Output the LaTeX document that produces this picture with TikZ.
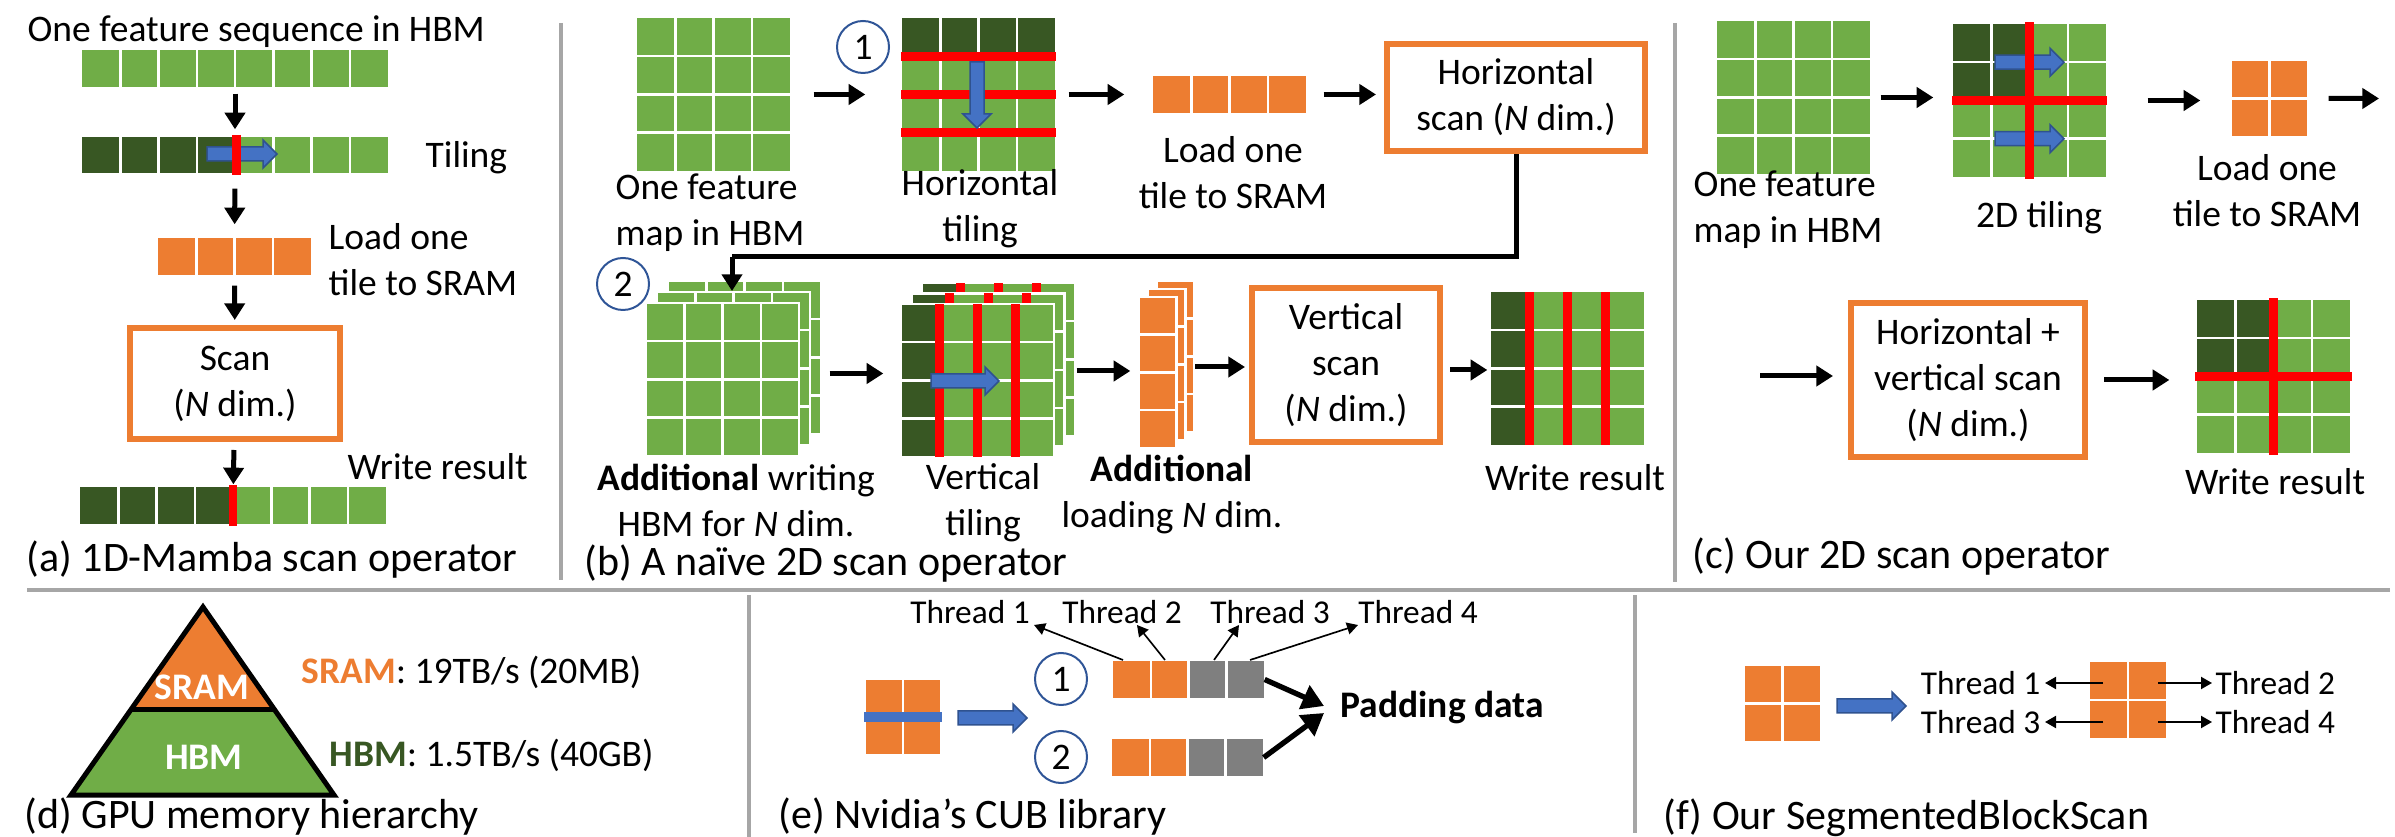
\documentclass[tikz,border=0pt]{standalone}
\usepackage{fontspec}
\setmainfont{Carlito}
\usetikzlibrary{arrows.meta,fit,calc}
\definecolor{gr}{HTML}{70AD47}
\definecolor{dg}{HTML}{385723}
\definecolor{org}{HTML}{ED7D31}
\definecolor{blu}{HTML}{4472C4}
\definecolor{blo}{HTML}{2F528F}
\definecolor{cir}{HTML}{2F5597}
\definecolor{gry}{HTML}{7F7F7F}
\definecolor{divc}{HTML}{A6A6A6}
\definecolor{rd}{HTML}{FF0000}
\newcommand{\gridsep}[6]{%
  \pgfmathtruncatemacro{\gsc}{#3-1}%
  \pgfmathtruncatemacro{\gsr}{#4-1}%
  \ifnum\gsc>0 \foreach \k in {1,...,\gsc}{\draw[sepl] ({#1+\k*#5},#2) -- ({#1+\k*#5},{#2+#4*#6});}\fi
  \ifnum\gsr>0 \foreach \k in {1,...,\gsr}{\draw[sepl] (#1,{#2+\k*#6}) -- ({#1+#3*#5},{#2+\k*#6});}\fi
}
\newcommand{\glayer}[7]{%
  \fill[#7] (#1,#2) rectangle ({#1+#3*#5},{#2+#4*#6});
  \draw[sepl] (#1,#2) rectangle ({#1+#3*#5},{#2+#4*#6});
  \gridsep{#1}{#2}{#3}{#4}{#5}{#6}}
\newcommand{\vtlayer}[2]{%
  \fill[gr] (#1,#2) rectangle ({#1+153},{#2+153});
  \fill[dg] (#1,#2) rectangle ({#1+38.25},{#2+153});
  \draw[sepl] (#1,#2) rectangle ({#1+153},{#2+153});
  \gridsep{#1}{#2}{4}{4}{38.25}{38.25}
  \foreach \k in {1,2,3}{\fill[rd] ({#1+\k*38.25-4.5},#2) rectangle ({#1+\k*38.25+4.5},{#2+153});}}
\newcommand{\barR}[3]{%
  \filldraw[fill=blu,draw=blo,line width=0.45pt] (#1,{#3-7}) -- ({#2-14},{#3-7}) -- ({#2-14},{#3-14}) -- (#2,#3) -- ({#2-14},{#3+14}) -- ({#2-14},{#3+7}) -- (#1,{#3+7}) -- cycle;}
\newcommand{\barD}[3]{%
  \filldraw[fill=blu,draw=blo,line width=0.45pt] ({#1-7},#2) -- ({#1-7},{#3-14}) -- ({#1-14},{#3-14}) -- (#1,#3) -- ({#1+14},{#3-14}) -- ({#1+7},{#3-14}) -- ({#1+7},#2) -- cycle;}
\begin{document}
\begin{tikzpicture}[x=0.3pt,y=-0.3pt,
  sepl/.style={white,line width=0.75pt},
  txt/.style={font=\fontsize{11.25}{13.8}\selectfont,inner sep=0pt,align=center},
  txl/.style={txt,align=left,anchor=west},
  captxt/.style={font=\fontsize{12.6}{15}\selectfont,inner sep=0pt,anchor=west},
  thr/.style={font=\fontsize{10}{12}\selectfont,inner sep=0pt},
  obox/.style={draw=org,line width=1.8pt,txt},
  circ/.style={circle,draw=cir,line width=0.6pt,minimum size=15.6pt,inner sep=0pt,font=\fontsize{11.25}{13.8}\selectfont},
  blk/.style={line width=1.5pt,-{Triangle[width=6pt,length=5pt]}},
  tarr/.style={line width=0.5pt,-{Triangle[width=3.6pt,length=3.3pt]}},
  parr/.style={line width=1.6pt,-{Triangle[width=7.5pt,length=6.5pt]}},
  divl/.style={divc,line width=1pt},
  bf/.style={inner sep=0pt}]
\useasboundingbox (0,0) rectangle (2395,837);
% ---------------- dividers
\draw[divl] (561,23) -- (561,580);
\draw[divl] (1675,23) -- (1675,582);
\draw[divl] (27,590) -- (2390,590);
\draw[divl] (749,595) -- (749,837);
\draw[divl] (1635,595) -- (1635,833);
% ---------------- (a)
\node[txt,anchor=west] (ta) at (27,32) {One feature sequence in HBM};
\fill[gr] (82,50) rectangle (388,87); \gridsep{82}{50}{8}{1}{38.25}{37}
\node[fit={(82,50)(388,87)},bf] (a1) {};
\fill[gr] (82,137) rectangle (388,173); \fill[dg] (82,137) rectangle (235,173);
\gridsep{82}{137}{8}{1}{38.25}{36}
\barR{207}{277}{154}
\fill[rd] (232,135) rectangle (241,175);
\node[fit={(82,137)(388,173)},bf] (a2) {};
\node[txt,anchor=west] (tt) at (425,158) {Tiling};
\fill[org] (158,238) rectangle (311,275); \gridsep{158}{238}{4}{1}{38.25}{37}
\node[fit={(158,238)(311,275)},bf] (a3) {};
\node[txl] (tl) at (328,260) {Load one\\tile to SRAM};
\node[obox,minimum width=63pt,minimum height=33.3pt] (abox) at (235,383.5) {Scan\\(\textit{N} dim.)};
\fill[gr] (80,487) rectangle (386,524); \fill[dg] (80,487) rectangle (233,524);
\gridsep{80}{487}{8}{1}{38.25}{37}
\fill[rd] (229,485) rectangle (237,526);
\node[fit={(80,487)(386,524)},bf] (a4) {};
\node[txt,anchor=west] (tw) at (347,467) {Write result};
\node[captxt] (capa) at (26,560) {(a) 1D-Mamba scan operator};
\draw[blk,shorten <=1.8pt,shorten >=2.1pt] (a1) -- (a2);
\draw[blk,shorten <=4.5pt,shorten >=3.9pt] (a2) -- (a3);
\draw[blk,shorten <=3pt,shorten >=1.5pt] (a3) -- (abox);
\draw[blk,shorten <=2.4pt,shorten >=0.6pt] (abox) -- (a4);
% ---------------- (b) top
\fill[gr] (637,18) rectangle (790,171); \gridsep{637}{18}{4}{4}{38.25}{38.25}
\node[fit={(637,18)(790,171)},bf] (b1) {};
\node[txl] (tb1) at (615,213) {One feature\\map in HBM};
\node[circ] (c1) at (863,47) {1};
\fill[gr] (902,18) rectangle (1055,171); \fill[dg] (902,18) rectangle (1055,56.25);
\gridsep{902}{18}{4}{4}{38.25}{38.25}
\foreach \r in {56.25,94.5,132.75}{\fill[rd] (901,{\r-4.5}) rectangle (1056,{\r+4.5});}
\barD{977}{62}{128}
\node[fit={(902,18)(1055,171)},bf] (b2) {};
\node[txt] (tb2) at (980,208.5) {Horizontal\\tiling};
\fill[org] (1153,76) rectangle (1306,113); \gridsep{1153}{76}{4}{1}{38.25}{37}
\node[fit={(1153,76)(1306,113)},bf] (ob) {};
\node[txt] (tb3) at (1233,173) {Load one\\tile to SRAM};
\node[obox,minimum width=77.4pt,minimum height=32.1pt] (hbox) at (1516,97.5) {Horizontal\\scan (\textit{N} dim.)};
\draw[blk,shorten <=6.9pt,shorten >=10.8pt] (b1) -- (b2);
\draw[blk,shorten <=3.9pt,shorten >=8.4pt] (b2) -- (ob);
\draw[blk,shorten <=5.1pt,shorten >=2.4pt] (ob.east) -- (ob.east -| hbox.west);
% ---------------- (b) bottom
\node[circ] (c2) at (623,284) {2};
\glayer{668}{281}{4}{4}{38.25}{38.25}{gr}
\glayer{657}{292}{4}{4}{38.25}{38.25}{gr}
\glayer{646}{303}{4}{4}{38.25}{38.25}{gr}
\node[fit={(646,303)(799,456)},bf] (s1) {};
\coordinate (fbk) at (732,257);
\coordinate (s1in) at (732,291);
\draw[line width=1.5pt] (hbox.south) |- (fbk);
\draw[blk] (fbk) -- (s1in);
\vtlayer{922}{283}
\vtlayer{911.5}{293.5}
\vtlayer{901}{304}
\barR{931}{999}{381}
\node[fit={(901,304)(1054,457)},bf] (s2) {};
\glayer{1157}{281}{1}{4}{37.5}{37.75}{org}
\glayer{1148}{289}{1}{4}{37.5}{37.75}{org}
\glayer{1139}{297}{1}{4}{37.5}{37.75}{org}
\node[fit={(1139,297)(1176.5,448)},bf] (oc) {};
\node[obox,minimum width=56.4pt,minimum height=46.2pt] (vbox) at (1346,365) {Vertical\\scan\\(\textit{N} dim.)};
\fill[gr] (1491,292) rectangle (1644,445); \fill[dg] (1491,292) rectangle (1529.25,445);
\gridsep{1491}{292}{4}{4}{38.25}{38.25}
\foreach \k in {1,2,3}{\fill[rd] ({1491+\k*38.25-4.5},292) rectangle ({1491+\k*38.25+4.5},445);}
\node[fit={(1491,292)(1644,445)},bf] (rg) {};
\draw[blk,shorten <=9pt,shorten >=5.1pt] ([yshift=1.8pt]s1.east) -- ([yshift=1.8pt]s1.east -| s2.west);
\draw[blk,shorten <=6.6pt,shorten >=2.4pt] ([yshift=2.85pt]s2.east) -- ([yshift=2.85pt]s2.east -| oc.west);
\draw[blk,shorten <=5.4pt,shorten >=1.2pt] ([yshift=1.65pt]oc.east) -- ([yshift=1.65pt]oc.east -| vbox.west);
\draw[blk,shorten <=2.1pt,shorten >=0.9pt] ([yshift=-1.5pt]vbox.east) -- ([yshift=-1.5pt]vbox.east -| rg.west);
\node[txt] (tb4) at (736,500) {\textbf{Additional} writing\\HBM for \textit{N} dim.};
\node[txt] (tb5) at (983,503) {Vertical\\tiling};
\node[txt] (tb6) at (1172,495) {\textbf{Additional}\\loading \textit{N} dim.};
\node[txt] (tb7) at (1575,478) {Write result};
\node[captxt] (capb) at (584,564) {(b) A naïve 2D scan operator};
% ---------------- (c)
\fill[gr] (1717,21) rectangle (1870,174); \gridsep{1717}{21}{4}{4}{38.25}{38.25}
\node[fit={(1717,21)(1870,174)},bf] (cg1) {};
\node[txl] (tc1) at (1693,210) {One feature\\map in HBM};
\fill[gr] (1953,24) rectangle (2106,177); \fill[dg] (1953,24) rectangle (2029.5,100.5);
\gridsep{1953}{24}{4}{4}{38.25}{38.25}
\barR{1995}{2064}{62.25}
\barR{1995}{2064}{138.75}
\fill[rd] (2025,22) rectangle (2034,179);
\fill[rd] (1952,96) rectangle (2107,105);
\node[fit={(1953,24)(2106,177)},bf] (cg2) {};
\node[txt] (tc2) at (2039,218) {2D tiling};
\fill[org] (2232,61) rectangle (2307,136); \gridsep{2232}{61}{2}{2}{37.5}{37.5}
\node[fit={(2232,61)(2307,136)},bf] (co) {};
\node[txt] (tc3) at (2267,191) {Load one\\tile to SRAM};
\coordinate (cend) at (2379,98.5);
\coordinate (cst) at (1760,376);
\node[obox,minimum width=70.2pt,minimum height=46.2pt] (cbox) at (1968,380) {Horizontal +\\vertical scan\\(\textit{N} dim.)};
\fill[gr] (2197,300) rectangle (2350,453); \fill[dg] (2197,300) rectangle (2273.5,376.5);
\gridsep{2197}{300}{4}{4}{38.25}{38.25}
\fill[rd] (2269,298) rectangle (2278,455);
\fill[rd] (2195,372) rectangle (2352,381);
\node[fit={(2197,300)(2350,453)},bf] (crg) {};
\node[txt] (tc4) at (2275,482) {Write result};
\node[captxt] (capc) at (1692,557) {(c) Our 2D scan operator};
\draw[blk,shorten <=3pt,shorten >=5.7pt] (cg1.east) -- (cg1.east -| cg2.west);
\draw[blk,shorten <=12.3pt,shorten >=9.3pt] (cg2.east) -- (cg2.east -| co.west);
\draw[blk,shorten <=6.3pt] (co.east) -- (cend);
\draw[blk,shorten >=4.5pt] (cst) -- (cst -| cbox.west);
\draw[blk,shorten <=4.8pt,shorten >=8.1pt] (cbox.east) -- (cbox.east -| crg.west);
% ---------------- (d)
\fill[org] (203,607) -- (130.7,710) -- (274.8,710) -- cycle;
\fill[gr] (130.7,710) -- (274.8,710) -- (334,795) -- (71,795) -- cycle;
\draw[line width=1.5pt,line join=miter] (203,607) -- (71,795) -- (334,795) -- cycle;
\draw[line width=1.5pt] (130.7,710) -- (274.8,710);
\node[txt,text=white,font=\fontsize{11.25}{13.8}\selectfont\bfseries] (dsr) at (202,687) {SRAM};
\node[txt,text=white,font=\fontsize{11.25}{13.8}\selectfont\bfseries] (dhb) at (204,757) {HBM};
\node[txt,anchor=west] (td1) at (301,672) {\textcolor{org}{\textbf{SRAM}}: 19TB/s (20MB)};
\node[txt,anchor=west] (td2) at (329,755) {\textcolor{dg}{\textbf{HBM}}: 1.5TB/s (40GB)};
\node[captxt] (capd) at (24,817) {(d) GPU memory hierarchy};
% ---------------- (e)
\fill[org] (866,680) rectangle (940,754); \gridsep{866}{680}{2}{2}{37}{37}
\fill[blu] (864,712) rectangle (942,722);
\barR{958}{1027}{718}
\node[circ] (e1) at (1061,679) {1};
\node[circ] (e2) at (1061,757) {2};
\fill[org] (1113,661) rectangle (1188.5,698); \fill[gry] (1188.5,661) rectangle (1264,698);
\gridsep{1113}{661}{4}{1}{37.75}{37}
\node[fit={(1113,661)(1264,698)},bf] (eb1) {};
\fill[org] (1112,739) rectangle (1187.5,776); \fill[gry] (1187.5,739) rectangle (1263,776);
\gridsep{1112}{739}{4}{1}{37.75}{37}
\node[fit={(1112,739)(1263,776)},bf] (eb2) {};
\node[thr] (t1) at (970,612) {Thread 1};
\node[thr] (t2) at (1122,612) {Thread 2};
\node[thr] (t3) at (1270,612) {Thread 3};
\node[thr] (t4) at (1418,612) {Thread 4};
\coordinate (e1s) at (1123,660); \coordinate (e1t) at (1034,625);
\coordinate (e2s) at (1165,660); \coordinate (e2t) at (1137,625);
\coordinate (e3s) at (1214,660); \coordinate (e3t) at (1239,625);
\coordinate (e4s) at (1250,660); \coordinate (e4t) at (1358,625);
\draw[tarr] (e1s) -- (e1t);
\draw[tarr] (e2s) -- (e2t);
\draw[tarr] (e3s) -- (e3t);
\draw[tarr] (e4s) -- (e4t);
\node[txt,anchor=west,font=\fontsize{11.25}{13.8}\selectfont\bfseries] (pad) at (1340,708) {Padding data};
\coordinate (p1) at (1324,706);
\coordinate (p2) at (1324,713);
\draw[parr] (eb1.east) -- (p1);
\draw[parr] (eb2.east) -- (p2);
\node[captxt] (cape) at (778,817) {(e) Nvidia’s CUB library};
% ---------------- (f)
\fill[org] (1745,666) rectangle (1820,741); \gridsep{1745}{666}{2}{2}{37.5}{37.5}
\barR{1837}{1906}{706}
\fill[org] (2090,662) rectangle (2166,738); \gridsep{2090}{662}{2}{2}{38}{38}
\node[thr,anchor=east] (tf1) at (2041,683) {Thread 1};
\node[thr,anchor=east] (tf3) at (2041,722) {Thread 3};
\node[thr,anchor=west] (tf2) at (2215,683) {Thread 2};
\node[thr,anchor=west] (tf4) at (2215,722) {Thread 4};
\coordinate (f1s) at (2103,683); \coordinate (f3s) at (2103,722);
\coordinate (f2s) at (2158,683); \coordinate (f4s) at (2158,722);
\draw[tarr,line width=0.6pt,shorten >=1.2pt] (f1s) -- (tf1.east);
\draw[tarr,line width=0.6pt,shorten >=1.2pt] (f3s) -- (tf3.east);
\draw[tarr,line width=0.6pt,shorten >=0.9pt] (f2s) -- (tf2.west);
\draw[tarr,line width=0.6pt,shorten >=0.9pt] (f4s) -- (tf4.west);
\node[captxt] (capf) at (1663,818) {(f) Our SegmentedBlockScan};
\end{tikzpicture}
\end{document}
